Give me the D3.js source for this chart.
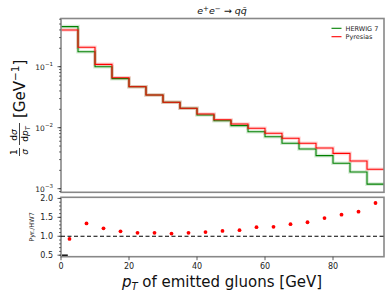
<!DOCTYPE html>
<html>
<head>
<meta charset="utf-8">
<script src="https://cdn.jsdelivr.net/npm/d3@7"></script>
<style>
  body { margin: 0; background: #fff; }
  text { font-family: "DejaVu Sans", sans-serif; }
</style>
</head>
<body>
<div id="chart"></div>
<script>
  // bin edges (GeV), 5 GeV wide
  var binEdges = [0,5,10,15,20,25,30,35,40,45,50,55,60,65,70,75,80,85,90,95];
  var herwig = [0.453,0.176,0.100,0.0636,0.047,0.0343,0.0261,0.0208,0.0161,0.0130,
                0.0108,0.0086,0.0071,0.00555,0.00448,0.00348,0.00261,0.00188,0.00119];
  var pyresias = [0.400,0.208,0.109,0.066,0.047,0.0343,0.0261,0.0208,0.0168,0.0135,
                  0.0115,0.00977,0.00809,0.00670,0.00555,0.00465,0.00380,0.00284,0.00208];
  var ratioCentres = [2.5,7.5,12.5,17.5,22.5,27.5,32.5,37.5,42.5,47.5,52.5,57.5,62.5,67.5,72.5,77.5,82.5,87.5,92.5];
  var ratio = [0.93,1.34,1.21,1.13,1.09,1.09,1.07,1.09,1.11,1.14,1.16,1.24,1.25,1.32,1.37,1.48,1.57,1.65,1.88];
  var xTicks = [0,20,40,60,80];
  var yTicksTop = [-1,-2,-3];
  var yTicksRatio = [0.5,1.0,1.5,2.0];
  var legendNames = ["HERWIG 7","Pyresias"];
  var colors = ["#008000","#ff0000"];

  var width = 391, height = 296;
  var left = 61, right = 384;
  var top1 = 18.5, bot1 = 192.3;
  var top2 = 197.3, bot2 = 256.7;

  var svg = d3.select("#chart").append("svg")
    .attr("width", width).attr("height", height);

  var x = d3.scaleLinear().domain([0,95]).range([left, right]);
  var y = d3.scaleLog().domain([0.000873, 0.616]).range([bot1, top1]);
  var yr = d3.scaleLinear().domain([0.46, 2.03]).range([bot2, top2]);

  function stepPath(vals) {
    var pts = [];
    vals.forEach(function(v, i) {
      pts.push([x(binEdges[i]), y(v)]);
      pts.push([x(binEdges[i+1]), y(v)]);
    });
    return d3.line()(pts);
  }

  var series = [herwig, pyresias];
  series.forEach(function(s, i) {
    svg.append("path").attr("d", stepPath(s))
      .attr("fill","none").attr("stroke", colors[i])
      .attr("stroke-width", 3.6).attr("stroke-opacity", 0.16);
  });
  series.forEach(function(s, i) {
    svg.append("path").attr("d", stepPath(s))
      .attr("fill","none").attr("stroke", colors[i])
      .attr("stroke-width", 1.1);
  });

  // frames
  [[top1,bot1],[top2,bot2]].forEach(function(p) {
    svg.append("rect").attr("x", left).attr("y", p[0])
      .attr("width", right-left).attr("height", p[1]-p[0])
      .attr("fill","none").attr("stroke","#888").attr("stroke-width",1.6);
  });

  // top y ticks (log)
  var minor = [];
  for (var e = -4; e <= 0; e++) for (var m = 1; m < 10; m++) {
    var v = m * Math.pow(10, e);
    if (v >= y.domain()[0] && v <= y.domain()[1]) minor.push(v);
  }
  svg.selectAll(".mt").data(minor).enter().append("line")
    .attr("x1", left-2).attr("x2", left).attr("y1", d => y(d)).attr("y2", d => y(d))
    .attr("stroke","#333").attr("stroke-width",0.7);
  yTicksTop.forEach(function(p) {
    var yy = y(Math.pow(10,p));
    svg.append("line").attr("x1",left-3.5).attr("x2",left).attr("y1",yy).attr("y2",yy)
      .attr("stroke","#333").attr("stroke-width",0.8);
    var t = svg.append("text").attr("x", left-8).attr("y", yy+3)
      .attr("text-anchor","end").attr("font-size",7.5).attr("fill","#222");
    t.append("tspan").text("10");
    t.append("tspan").attr("dy",-3.5).attr("font-size",5.5).text("\u2212" + (-p));
  });

  // ratio y ticks
  var rminor = d3.range(0.5, 2.01, 0.1);
  svg.selectAll(".rmt").data(rminor).enter().append("line")
    .attr("x1", left-2).attr("x2", left).attr("y1", d => yr(d)).attr("y2", d => yr(d))
    .attr("stroke","#333").attr("stroke-width",0.7);
  yTicksRatio.forEach(function(v) {
    svg.append("line").attr("x1",left-3.5).attr("x2",left).attr("y1",yr(v)).attr("y2",yr(v))
      .attr("stroke","#333").attr("stroke-width",0.8);
    svg.append("text").attr("x", left-8).attr("y", yr(v)+3)
      .attr("text-anchor","end").attr("font-size",8).attr("fill","#222")
      .text(d3.format(".1f")(v));
  });

  // x ticks
  xTicks.forEach(function(v) {
    svg.append("line").attr("x1",x(v)).attr("x2",x(v)).attr("y1",bot2).attr("y2",bot2+3.5)
      .attr("stroke","#333").attr("stroke-width",0.8);
    svg.append("text").attr("x", x(v)).attr("y", bot2+12)
      .attr("text-anchor","middle").attr("font-size",8).attr("fill","#222").text(v);
  });

  // ratio reference line and points
  svg.append("line").attr("x1", left).attr("x2", right)
    .attr("y1", yr(1)).attr("y2", yr(1))
    .attr("stroke","#000").attr("stroke-width",1.2).attr("stroke-dasharray","4,2.5");
  svg.append("line").attr("x1", x(0.3)).attr("x2", x(2)).attr("y1", yr(0.5)).attr("y2", yr(0.5))
    .attr("stroke","#000").attr("stroke-width",1.4);
  svg.selectAll(".pt").data(ratio).enter().append("circle")
    .attr("cx", (d,i) => x(ratioCentres[i])).attr("cy", d => yr(d))
    .attr("r", 1.9).attr("fill","#ff0000");

  // title
  var tt = svg.append("text").attr("x", 222).attr("y", 14)
    .attr("text-anchor","middle").attr("font-size",9.5).attr("font-style","italic").attr("fill","#111");
  tt.append("tspan").text("e");
  tt.append("tspan").attr("dy",-3.5).attr("font-size",7).text("+");
  tt.append("tspan").attr("dy",3.5).text("e");
  tt.append("tspan").attr("dy",-3.5).attr("font-size",7).text("\u2212");
  tt.append("tspan").attr("dy",3.5).text(" \u2192 q");
  tt.append("tspan").text("q\u0304");

  // legend
  legendNames.forEach(function(n, i) {
    var ly = 28.3 + i*8.4;
    svg.append("line").attr("x1",331.5).attr("x2",341.5).attr("y1",ly).attr("y2",ly)
      .attr("stroke",colors[i]).attr("stroke-width",1.1);
    svg.append("text").attr("x",345.5).attr("y",ly+2.5).attr("font-size",6.5).attr("fill","#222").text(n);
  });

  // x label
  var xl = svg.append("text").attr("x", 222).attr("y", 287)
    .attr("text-anchor","middle").attr("font-size",15).attr("fill","#111");
  xl.append("tspan").attr("font-style","italic").text("p");
  xl.append("tspan").attr("font-style","italic").attr("font-size",10).attr("dy",3).text("T");
  xl.append("tspan").attr("dy",-3).text(" of emitted gluons [GeV]");

  // ratio y label
  svg.append("text").attr("transform","translate(34," + ((top2+bot2)/2) + ") rotate(-90)")
    .attr("text-anchor","middle").attr("font-size",6.5).attr("fill","#222").text("Pyr./HW7");

  // top y label, built rotated
  var g = svg.append("g").attr("transform","translate(22,157) rotate(-90)");
  // 1/sigma fraction
  g.append("text").attr("x",5).attr("y",-5).attr("text-anchor","middle").attr("font-size",9).text("1");
  g.append("line").attr("x1",1).attr("x2",9).attr("y1",-2.5).attr("y2",-2.5).attr("stroke","#111").attr("stroke-width",0.8);
  g.append("text").attr("x",5).attr("y",5.5).attr("text-anchor","middle").attr("font-size",9).attr("font-style","italic").text("\u03c3");
  // dsigma/dpT fraction
  g.append("text").attr("x",22).attr("y",-5).attr("text-anchor","middle").attr("font-size",9).html("d<tspan font-style='italic'>\u03c3</tspan>");
  g.append("line").attr("x1",12).attr("x2",34).attr("y1",-2.5).attr("y2",-2.5).attr("stroke","#111").attr("stroke-width",0.8);
  g.append("text").attr("x",23).attr("y",5.5).attr("text-anchor","middle").attr("font-size",9)
    .html("d<tspan font-style='italic'>p</tspan><tspan font-style='italic' font-size='6.5' dy='2'>T</tspan>");
  var gl = g.append("text").attr("x",39).attr("y",3).attr("font-size",15).attr("fill","#111");
  gl.append("tspan").text("[GeV");
  gl.append("tspan").attr("dy",-6).attr("font-size",10.5).text("\u22121");
  gl.append("tspan").attr("dy",6).text("]");
</script>
</body>
</html>
